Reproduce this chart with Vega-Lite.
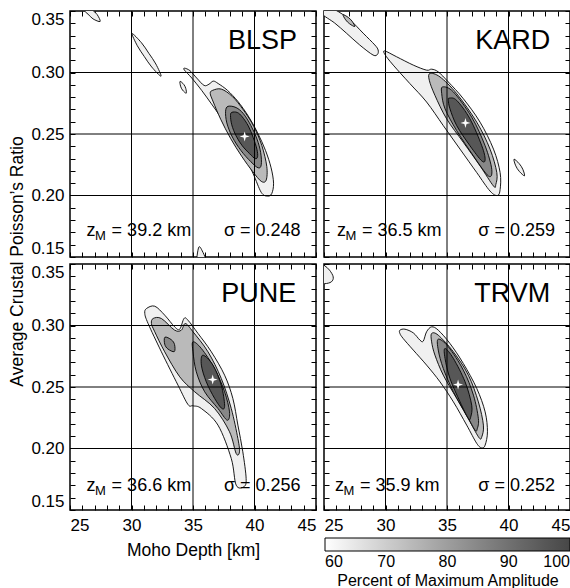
{
"$schema":"https://vega.github.io/schema/vega-lite/v6.json",
"padding":{"left":8,"top":9,"right":2,"bottom":0},
"bounds":"flush",
"columns":2,
"spacing":{"row":7,"column":8},
"config":{
 "font":"Liberation Sans",
 "view":{"stroke":"black","strokeWidth":1.5},
 "axis":{"labelFont":"Liberation Sans","labelFontSize":17,"labelColor":"black","titleFont":"Liberation Sans","titleFontSize":17.5,"titleFontWeight":"normal","titleColor":"black","tickColor":"black","tickWidth":1,"domain":false,"grid":false},
 "legend":{"labelFont":"Liberation Sans","titleFont":"Liberation Sans"}
},
"datasets":{
"gx":[{"v":30},{"v":35},{"v":40}],
"gy":[{"v":0.2},{"v":0.25},{"v":0.3}],
"info":[
{"s":"BLSP","zm":39.2,"sg":0.248,"zt":"= 39.2 km","st":"σ = 0.248"},
{"s":"KARD","zm":36.5,"sg":0.259,"zt":"= 36.5 km","st":"σ = 0.259"},
{"s":"PUNE","zm":36.6,"sg":0.256,"zt":"= 36.6 km","st":"σ = 0.256"},
{"s":"TRVM","zm":35.9,"sg":0.252,"zt":"= 35.9 km","st":"σ = 0.252"}],
"c":[
{"s":"BLSP","i":"B1","l":60,"f":63,"o":1,"x":34.32,"y":0.3035},
{"s":"BLSP","i":"B1","l":60,"f":63,"o":2,"x":34.75,"y":0.3015},
{"s":"BLSP","i":"B1","l":60,"f":63,"o":3,"x":35.3,"y":0.2955},
{"s":"BLSP","i":"B1","l":60,"f":63,"o":4,"x":35.9,"y":0.2895},
{"s":"BLSP","i":"B1","l":60,"f":63,"o":5,"x":36.3,"y":0.2905},
{"s":"BLSP","i":"B1","l":60,"f":63,"o":6,"x":36.65,"y":0.293},
{"s":"BLSP","i":"B1","l":60,"f":63,"o":7,"x":37.05,"y":0.291},
{"s":"BLSP","i":"B1","l":60,"f":63,"o":8,"x":37.8,"y":0.2855},
{"s":"BLSP","i":"B1","l":60,"f":63,"o":9,"x":38.65,"y":0.2765},
{"s":"BLSP","i":"B1","l":60,"f":63,"o":10,"x":39.5,"y":0.2645},
{"s":"BLSP","i":"B1","l":60,"f":63,"o":11,"x":40.25,"y":0.251},
{"s":"BLSP","i":"B1","l":60,"f":63,"o":12,"x":40.9,"y":0.2365},
{"s":"BLSP","i":"B1","l":60,"f":63,"o":13,"x":41.35,"y":0.2225},
{"s":"BLSP","i":"B1","l":60,"f":63,"o":14,"x":41.55,"y":0.21},
{"s":"BLSP","i":"B1","l":60,"f":63,"o":15,"x":41.4,"y":0.2015},
{"s":"BLSP","i":"B1","l":60,"f":63,"o":16,"x":41.05,"y":0.1995},
{"s":"BLSP","i":"B1","l":60,"f":63,"o":17,"x":40.55,"y":0.2025},
{"s":"BLSP","i":"B1","l":60,"f":63,"o":18,"x":39.9,"y":0.2175},
{"s":"BLSP","i":"B1","l":60,"f":63,"o":19,"x":39.2,"y":0.232},
{"s":"BLSP","i":"B1","l":60,"f":63,"o":20,"x":38.5,"y":0.2435},
{"s":"BLSP","i":"B1","l":60,"f":63,"o":21,"x":37.85,"y":0.2545},
{"s":"BLSP","i":"B1","l":60,"f":63,"o":22,"x":37.2,"y":0.2645},
{"s":"BLSP","i":"B1","l":60,"f":63,"o":23,"x":36.5,"y":0.2745},
{"s":"BLSP","i":"B1","l":60,"f":63,"o":24,"x":35.7,"y":0.2855},
{"s":"BLSP","i":"B1","l":60,"f":63,"o":25,"x":34.9,"y":0.2955},
{"s":"BLSP","i":"B1","l":60,"f":63,"o":26,"x":34.3,"y":0.302},
{"s":"BLSP","i":"B2","l":60,"f":63,"o":1,"x":30.05,"y":0.3316},
{"s":"BLSP","i":"B2","l":60,"f":63,"o":2,"x":30.81,"y":0.3242},
{"s":"BLSP","i":"B2","l":60,"f":63,"o":3,"x":31.41,"y":0.3156},
{"s":"BLSP","i":"B2","l":60,"f":63,"o":4,"x":31.98,"y":0.3069},
{"s":"BLSP","i":"B2","l":60,"f":63,"o":5,"x":32.4,"y":0.297},
{"s":"BLSP","i":"B2","l":60,"f":63,"o":6,"x":31.64,"y":0.3045},
{"s":"BLSP","i":"B2","l":60,"f":63,"o":7,"x":31.04,"y":0.313},
{"s":"BLSP","i":"B2","l":60,"f":63,"o":8,"x":30.47,"y":0.3218},
{"s":"BLSP","i":"B3","l":60,"f":63,"o":1,"x":33.95,"y":0.2928},
{"s":"BLSP","i":"B3","l":60,"f":63,"o":2,"x":34.25,"y":0.2903},
{"s":"BLSP","i":"B3","l":60,"f":63,"o":3,"x":34.41,"y":0.2871},
{"s":"BLSP","i":"B3","l":60,"f":63,"o":4,"x":34.45,"y":0.2832},
{"s":"BLSP","i":"B3","l":60,"f":63,"o":5,"x":34.15,"y":0.2857},
{"s":"BLSP","i":"B3","l":60,"f":63,"o":6,"x":33.99,"y":0.2889},
{"s":"BLSP","i":"B4","l":60,"f":63,"o":1,"x":25.8,"y":0.357},
{"s":"BLSP","i":"B4","l":60,"f":63,"o":2,"x":26.38,"y":0.3549},
{"s":"BLSP","i":"B4","l":60,"f":63,"o":3,"x":26.79,"y":0.3511},
{"s":"BLSP","i":"B4","l":60,"f":63,"o":4,"x":27.2,"y":0.3472},
{"s":"BLSP","i":"B4","l":60,"f":63,"o":5,"x":27.45,"y":0.3415},
{"s":"BLSP","i":"B4","l":60,"f":63,"o":6,"x":26.87,"y":0.3436},
{"s":"BLSP","i":"B4","l":60,"f":63,"o":7,"x":26.46,"y":0.3475},
{"s":"BLSP","i":"B4","l":60,"f":63,"o":8,"x":26.05,"y":0.3513},
{"s":"BLSP","i":"B5","l":60,"f":63,"o":1,"x":35.35,"y":0.145},
{"s":"BLSP","i":"B5","l":60,"f":63,"o":2,"x":35.45,"y":0.1575},
{"s":"BLSP","i":"B5","l":60,"f":63,"o":3,"x":35.7,"y":0.156},
{"s":"BLSP","i":"B5","l":60,"f":63,"o":4,"x":36.1,"y":0.145},
{"s":"BLSP","i":"B6","l":70,"f":74,"o":1,"x":36.6,"y":0.2855},
{"s":"BLSP","i":"B6","l":70,"f":74,"o":2,"x":37.3,"y":0.2865},
{"s":"BLSP","i":"B6","l":70,"f":74,"o":3,"x":38.2,"y":0.2805},
{"s":"BLSP","i":"B6","l":70,"f":74,"o":4,"x":39.1,"y":0.2695},
{"s":"BLSP","i":"B6","l":70,"f":74,"o":5,"x":39.95,"y":0.256},
{"s":"BLSP","i":"B6","l":70,"f":74,"o":6,"x":40.6,"y":0.2405},
{"s":"BLSP","i":"B6","l":70,"f":74,"o":7,"x":41.0,"y":0.2235},
{"s":"BLSP","i":"B6","l":70,"f":74,"o":8,"x":40.95,"y":0.2125},
{"s":"BLSP","i":"B6","l":70,"f":74,"o":9,"x":40.55,"y":0.2115},
{"s":"BLSP","i":"B6","l":70,"f":74,"o":10,"x":39.85,"y":0.2195},
{"s":"BLSP","i":"B6","l":70,"f":74,"o":11,"x":38.95,"y":0.232},
{"s":"BLSP","i":"B6","l":70,"f":74,"o":12,"x":38.05,"y":0.2465},
{"s":"BLSP","i":"B6","l":70,"f":74,"o":13,"x":37.25,"y":0.262},
{"s":"BLSP","i":"B6","l":70,"f":74,"o":14,"x":36.65,"y":0.276},
{"s":"BLSP","i":"B6","l":70,"f":74,"o":15,"x":36.4,"y":0.283},
{"s":"BLSP","i":"B7","l":80,"f":85,"o":1,"x":37.85,"y":0.2725},
{"s":"BLSP","i":"B7","l":80,"f":85,"o":2,"x":38.5,"y":0.2715},
{"s":"BLSP","i":"B7","l":80,"f":85,"o":3,"x":39.1,"y":0.2665},
{"s":"BLSP","i":"B7","l":80,"f":85,"o":4,"x":39.7,"y":0.257},
{"s":"BLSP","i":"B7","l":80,"f":85,"o":5,"x":40.2,"y":0.246},
{"s":"BLSP","i":"B7","l":80,"f":85,"o":6,"x":40.5,"y":0.235},
{"s":"BLSP","i":"B7","l":80,"f":85,"o":7,"x":40.55,"y":0.225},
{"s":"BLSP","i":"B7","l":80,"f":85,"o":8,"x":40.3,"y":0.2225},
{"s":"BLSP","i":"B7","l":80,"f":85,"o":9,"x":39.7,"y":0.2275},
{"s":"BLSP","i":"B7","l":80,"f":85,"o":10,"x":38.9,"y":0.2365},
{"s":"BLSP","i":"B7","l":80,"f":85,"o":11,"x":38.2,"y":0.2475},
{"s":"BLSP","i":"B7","l":80,"f":85,"o":12,"x":37.75,"y":0.259},
{"s":"BLSP","i":"B7","l":80,"f":85,"o":13,"x":37.65,"y":0.2685},
{"s":"BLSP","i":"B8","l":90,"f":96,"o":1,"x":38.16,"y":0.2676},
{"s":"BLSP","i":"B8","l":90,"f":96,"o":2,"x":38.6,"y":0.2675},
{"s":"BLSP","i":"B8","l":90,"f":96,"o":3,"x":39.0,"y":0.264},
{"s":"BLSP","i":"B8","l":90,"f":96,"o":4,"x":39.5,"y":0.2565},
{"s":"BLSP","i":"B8","l":90,"f":96,"o":5,"x":39.9,"y":0.247},
{"s":"BLSP","i":"B8","l":90,"f":96,"o":6,"x":40.2,"y":0.2375},
{"s":"BLSP","i":"B8","l":90,"f":96,"o":7,"x":40.25,"y":0.2315},
{"s":"BLSP","i":"B8","l":90,"f":96,"o":8,"x":40.05,"y":0.23},
{"s":"BLSP","i":"B8","l":90,"f":96,"o":9,"x":39.6,"y":0.234},
{"s":"BLSP","i":"B8","l":90,"f":96,"o":10,"x":39.0,"y":0.2405},
{"s":"BLSP","i":"B8","l":90,"f":96,"o":11,"x":38.5,"y":0.2485},
{"s":"BLSP","i":"B8","l":90,"f":96,"o":12,"x":38.15,"y":0.2575},
{"s":"BLSP","i":"B8","l":90,"f":96,"o":13,"x":38.05,"y":0.265},
{"s":"KARD","i":"K1","l":60,"f":63,"o":1,"x":29.95,"y":0.3175},
{"s":"KARD","i":"K1","l":60,"f":63,"o":2,"x":30.9,"y":0.3128},
{"s":"KARD","i":"K1","l":60,"f":63,"o":3,"x":32.26,"y":0.306},
{"s":"KARD","i":"K1","l":60,"f":63,"o":4,"x":33.34,"y":0.3019},
{"s":"KARD","i":"K1","l":60,"f":63,"o":5,"x":33.75,"y":0.3027},
{"s":"KARD","i":"K1","l":60,"f":63,"o":6,"x":34.29,"y":0.3005},
{"s":"KARD","i":"K1","l":60,"f":63,"o":7,"x":35.11,"y":0.2923},
{"s":"KARD","i":"K1","l":60,"f":63,"o":8,"x":36.33,"y":0.2787},
{"s":"KARD","i":"K1","l":60,"f":63,"o":9,"x":37.69,"y":0.2596},
{"s":"KARD","i":"K1","l":60,"f":63,"o":10,"x":38.78,"y":0.2377},
{"s":"KARD","i":"K1","l":60,"f":63,"o":11,"x":39.32,"y":0.2186},
{"s":"KARD","i":"K1","l":60,"f":63,"o":12,"x":39.32,"y":0.2049},
{"s":"KARD","i":"K1","l":60,"f":63,"o":13,"x":39.1,"y":0.2},
{"s":"KARD","i":"K1","l":60,"f":63,"o":14,"x":38.5,"y":0.2036},
{"s":"KARD","i":"K1","l":60,"f":63,"o":15,"x":37.42,"y":0.2186},
{"s":"KARD","i":"K1","l":60,"f":63,"o":16,"x":36.06,"y":0.2377},
{"s":"KARD","i":"K1","l":60,"f":63,"o":17,"x":34.7,"y":0.2568},
{"s":"KARD","i":"K1","l":60,"f":63,"o":18,"x":33.34,"y":0.276},
{"s":"KARD","i":"K1","l":60,"f":63,"o":19,"x":31.98,"y":0.291},
{"s":"KARD","i":"K1","l":60,"f":63,"o":20,"x":30.63,"y":0.306},
{"s":"KARD","i":"K1","l":60,"f":63,"o":21,"x":29.95,"y":0.3147},
{"s":"KARD","i":"K2","l":60,"f":63,"o":1,"x":24.8,"y":0.354},
{"s":"KARD","i":"K2","l":60,"f":63,"o":2,"x":25.87,"y":0.3511},
{"s":"KARD","i":"K2","l":60,"f":63,"o":3,"x":27.09,"y":0.3429},
{"s":"KARD","i":"K2","l":60,"f":63,"o":4,"x":28.18,"y":0.332},
{"s":"KARD","i":"K2","l":60,"f":63,"o":5,"x":29.13,"y":0.3224},
{"s":"KARD","i":"K2","l":60,"f":63,"o":6,"x":29.4,"y":0.3183},
{"s":"KARD","i":"K2","l":60,"f":63,"o":7,"x":29.35,"y":0.3148},
{"s":"KARD","i":"K2","l":60,"f":63,"o":8,"x":28.99,"y":0.3142},
{"s":"KARD","i":"K2","l":60,"f":63,"o":9,"x":27.9,"y":0.3224},
{"s":"KARD","i":"K2","l":60,"f":63,"o":10,"x":26.82,"y":0.332},
{"s":"KARD","i":"K2","l":60,"f":63,"o":11,"x":25.87,"y":0.3402},
{"s":"KARD","i":"K2","l":60,"f":63,"o":12,"x":24.8,"y":0.348},
{"s":"KARD","i":"K4","l":60,"f":63,"o":1,"x":40.45,"y":0.2295},
{"s":"KARD","i":"K4","l":60,"f":63,"o":2,"x":40.87,"y":0.2259},
{"s":"KARD","i":"K4","l":60,"f":63,"o":3,"x":41.16,"y":0.2214},
{"s":"KARD","i":"K4","l":60,"f":63,"o":4,"x":41.3,"y":0.216},
{"s":"KARD","i":"K4","l":60,"f":63,"o":5,"x":40.88,"y":0.2196},
{"s":"KARD","i":"K4","l":60,"f":63,"o":6,"x":40.59,"y":0.2241},
{"s":"KARD","i":"K3","l":70,"f":74,"o":1,"x":26.55,"y":0.347},
{"s":"KARD","i":"K3","l":70,"f":74,"o":2,"x":26.97,"y":0.3448},
{"s":"KARD","i":"K3","l":70,"f":74,"o":3,"x":27.29,"y":0.3416},
{"s":"KARD","i":"K3","l":70,"f":74,"o":4,"x":27.5,"y":0.3374},
{"s":"KARD","i":"K3","l":70,"f":74,"o":5,"x":27.08,"y":0.3396},
{"s":"KARD","i":"K3","l":70,"f":74,"o":6,"x":26.76,"y":0.3428},
{"s":"KARD","i":"K5","l":70,"f":74,"o":1,"x":33.61,"y":0.2992},
{"s":"KARD","i":"K5","l":70,"f":74,"o":2,"x":34.43,"y":0.2964},
{"s":"KARD","i":"K5","l":70,"f":74,"o":3,"x":35.79,"y":0.2828},
{"s":"KARD","i":"K5","l":70,"f":74,"o":4,"x":37.42,"y":0.2596},
{"s":"KARD","i":"K5","l":70,"f":74,"o":5,"x":38.5,"y":0.2377},
{"s":"KARD","i":"K5","l":70,"f":74,"o":6,"x":39.05,"y":0.2186},
{"s":"KARD","i":"K5","l":70,"f":74,"o":7,"x":38.97,"y":0.209},
{"s":"KARD","i":"K5","l":70,"f":74,"o":8,"x":38.78,"y":0.2077},
{"s":"KARD","i":"K5","l":70,"f":74,"o":9,"x":37.69,"y":0.224},
{"s":"KARD","i":"K5","l":70,"f":74,"o":10,"x":36.33,"y":0.2432},
{"s":"KARD","i":"K5","l":70,"f":74,"o":11,"x":34.97,"y":0.2623},
{"s":"KARD","i":"K5","l":70,"f":74,"o":12,"x":34.02,"y":0.2814},
{"s":"KARD","i":"K5","l":70,"f":74,"o":13,"x":33.56,"y":0.2937},
{"s":"KARD","i":"K6","l":80,"f":85,"o":1,"x":34.65,"y":0.2883},
{"s":"KARD","i":"K6","l":80,"f":85,"o":2,"x":35.52,"y":0.2842},
{"s":"KARD","i":"K6","l":80,"f":85,"o":3,"x":37.01,"y":0.2637},
{"s":"KARD","i":"K6","l":80,"f":85,"o":4,"x":38.1,"y":0.2404},
{"s":"KARD","i":"K6","l":80,"f":85,"o":5,"x":38.64,"y":0.2213},
{"s":"KARD","i":"K6","l":80,"f":85,"o":6,"x":38.37,"y":0.2158},
{"s":"KARD","i":"K6","l":80,"f":85,"o":7,"x":37.15,"y":0.2322},
{"s":"KARD","i":"K6","l":80,"f":85,"o":8,"x":35.79,"y":0.2527},
{"s":"KARD","i":"K6","l":80,"f":85,"o":9,"x":34.84,"y":0.2705},
{"s":"KARD","i":"K6","l":80,"f":85,"o":10,"x":34.57,"y":0.2828},
{"s":"KARD","i":"K7","l":90,"f":96,"o":1,"x":35.19,"y":0.2792},
{"s":"KARD","i":"K7","l":90,"f":96,"o":2,"x":35.79,"y":0.2773},
{"s":"KARD","i":"K7","l":90,"f":96,"o":3,"x":36.87,"y":0.2623},
{"s":"KARD","i":"K7","l":90,"f":96,"o":4,"x":37.83,"y":0.2404},
{"s":"KARD","i":"K7","l":90,"f":96,"o":5,"x":38.1,"y":0.2295},
{"s":"KARD","i":"K7","l":90,"f":96,"o":6,"x":37.83,"y":0.2281},
{"s":"KARD","i":"K7","l":90,"f":96,"o":7,"x":36.87,"y":0.2404},
{"s":"KARD","i":"K7","l":90,"f":96,"o":8,"x":35.79,"y":0.2568},
{"s":"KARD","i":"K7","l":90,"f":96,"o":9,"x":35.24,"y":0.2705},
{"s":"KARD","i":"K7","l":90,"f":96,"o":10,"x":35.11,"y":0.2773},
{"s":"PUNE","i":"P1","l":60,"f":63,"o":1,"x":31.22,"y":0.3138},
{"s":"PUNE","i":"P1","l":60,"f":63,"o":2,"x":31.89,"y":0.3157},
{"s":"PUNE","i":"P1","l":60,"f":63,"o":3,"x":32.7,"y":0.3084},
{"s":"PUNE","i":"P1","l":60,"f":63,"o":4,"x":33.51,"y":0.2989},
{"s":"PUNE","i":"P1","l":60,"f":63,"o":5,"x":33.92,"y":0.297},
{"s":"PUNE","i":"P1","l":60,"f":63,"o":6,"x":34.27,"y":0.3057},
{"s":"PUNE","i":"P1","l":60,"f":63,"o":7,"x":34.59,"y":0.3043},
{"s":"PUNE","i":"P1","l":60,"f":63,"o":8,"x":35.41,"y":0.2935},
{"s":"PUNE","i":"P1","l":60,"f":63,"o":9,"x":36.49,"y":0.2786},
{"s":"PUNE","i":"P1","l":60,"f":63,"o":10,"x":37.57,"y":0.2596},
{"s":"PUNE","i":"P1","l":60,"f":63,"o":11,"x":38.24,"y":0.2407},
{"s":"PUNE","i":"P1","l":60,"f":63,"o":12,"x":38.65,"y":0.219},
{"s":"PUNE","i":"P1","l":60,"f":63,"o":13,"x":39.05,"y":0.1973},
{"s":"PUNE","i":"P1","l":60,"f":63,"o":14,"x":39.32,"y":0.1756},
{"s":"PUNE","i":"P1","l":60,"f":63,"o":15,"x":39.15,"y":0.169},
{"s":"PUNE","i":"P1","l":60,"f":63,"o":16,"x":38.51,"y":0.1702},
{"s":"PUNE","i":"P1","l":60,"f":63,"o":17,"x":38.11,"y":0.1919},
{"s":"PUNE","i":"P1","l":60,"f":63,"o":18,"x":37.03,"y":0.219},
{"s":"PUNE","i":"P1","l":60,"f":63,"o":19,"x":35.68,"y":0.2325},
{"s":"PUNE","i":"P1","l":60,"f":63,"o":20,"x":35.0,"y":0.2347},
{"s":"PUNE","i":"P1","l":60,"f":63,"o":21,"x":34.59,"y":0.2358},
{"s":"PUNE","i":"P1","l":60,"f":63,"o":22,"x":33.78,"y":0.2515},
{"s":"PUNE","i":"P1","l":60,"f":63,"o":23,"x":32.43,"y":0.2786},
{"s":"PUNE","i":"P1","l":60,"f":63,"o":24,"x":31.35,"y":0.3016},
{"s":"PUNE","i":"P1","l":60,"f":63,"o":25,"x":31.08,"y":0.3098},
{"s":"PUNE","i":"P2","l":70,"f":74,"o":1,"x":31.76,"y":0.3057},
{"s":"PUNE","i":"P2","l":70,"f":74,"o":2,"x":32.43,"y":0.3057},
{"s":"PUNE","i":"P2","l":70,"f":74,"o":3,"x":33.51,"y":0.2962},
{"s":"PUNE","i":"P2","l":70,"f":74,"o":4,"x":34.05,"y":0.2962},
{"s":"PUNE","i":"P2","l":70,"f":74,"o":5,"x":34.38,"y":0.3016},
{"s":"PUNE","i":"P2","l":70,"f":74,"o":6,"x":35.0,"y":0.2949},
{"s":"PUNE","i":"P2","l":70,"f":74,"o":7,"x":36.22,"y":0.2786},
{"s":"PUNE","i":"P2","l":70,"f":74,"o":8,"x":37.3,"y":0.2569},
{"s":"PUNE","i":"P2","l":70,"f":74,"o":9,"x":38.11,"y":0.2325},
{"s":"PUNE","i":"P2","l":70,"f":74,"o":10,"x":38.65,"y":0.2081},
{"s":"PUNE","i":"P2","l":70,"f":74,"o":11,"x":38.78,"y":0.1973},
{"s":"PUNE","i":"P2","l":70,"f":74,"o":12,"x":38.51,"y":0.1959},
{"s":"PUNE","i":"P2","l":70,"f":74,"o":13,"x":37.97,"y":0.2136},
{"s":"PUNE","i":"P2","l":70,"f":74,"o":14,"x":36.76,"y":0.2325},
{"s":"PUNE","i":"P2","l":70,"f":74,"o":15,"x":35.14,"y":0.2461},
{"s":"PUNE","i":"P2","l":70,"f":74,"o":16,"x":33.92,"y":0.2583},
{"s":"PUNE","i":"P2","l":70,"f":74,"o":17,"x":32.7,"y":0.2786},
{"s":"PUNE","i":"P2","l":70,"f":74,"o":18,"x":31.89,"y":0.2949},
{"s":"PUNE","i":"P2","l":70,"f":74,"o":19,"x":31.62,"y":0.3016},
{"s":"PUNE","i":"P3","l":80,"f":85,"o":1,"x":32.72,"y":0.2905},
{"s":"PUNE","i":"P3","l":80,"f":85,"o":2,"x":33.24,"y":0.2884},
{"s":"PUNE","i":"P3","l":80,"f":85,"o":3,"x":33.5,"y":0.2845},
{"s":"PUNE","i":"P3","l":80,"f":85,"o":4,"x":33.48,"y":0.2788},
{"s":"PUNE","i":"P3","l":80,"f":85,"o":5,"x":32.96,"y":0.2809},
{"s":"PUNE","i":"P3","l":80,"f":85,"o":6,"x":32.7,"y":0.2848},
{"s":"PUNE","i":"P4","l":80,"f":85,"o":1,"x":35.0,"y":0.2867},
{"s":"PUNE","i":"P4","l":80,"f":85,"o":2,"x":35.68,"y":0.2813},
{"s":"PUNE","i":"P4","l":80,"f":85,"o":3,"x":36.76,"y":0.265},
{"s":"PUNE","i":"P4","l":80,"f":85,"o":4,"x":37.57,"y":0.2461},
{"s":"PUNE","i":"P4","l":80,"f":85,"o":5,"x":37.97,"y":0.2298},
{"s":"PUNE","i":"P4","l":80,"f":85,"o":6,"x":37.78,"y":0.223},
{"s":"PUNE","i":"P4","l":80,"f":85,"o":7,"x":37.03,"y":0.2325},
{"s":"PUNE","i":"P4","l":80,"f":85,"o":8,"x":35.95,"y":0.2461},
{"s":"PUNE","i":"P4","l":80,"f":85,"o":9,"x":35.27,"y":0.2623},
{"s":"PUNE","i":"P4","l":80,"f":85,"o":10,"x":35.0,"y":0.2786},
{"s":"PUNE","i":"P5","l":90,"f":96,"o":1,"x":35.81,"y":0.2759},
{"s":"PUNE","i":"P5","l":90,"f":96,"o":2,"x":36.62,"y":0.2678},
{"s":"PUNE","i":"P5","l":90,"f":96,"o":3,"x":37.3,"y":0.2515},
{"s":"PUNE","i":"P5","l":90,"f":96,"o":4,"x":37.57,"y":0.2352},
{"s":"PUNE","i":"P5","l":90,"f":96,"o":5,"x":37.35,"y":0.2325},
{"s":"PUNE","i":"P5","l":90,"f":96,"o":6,"x":36.76,"y":0.2407},
{"s":"PUNE","i":"P5","l":90,"f":96,"o":7,"x":36.08,"y":0.2542},
{"s":"PUNE","i":"P5","l":90,"f":96,"o":8,"x":35.68,"y":0.2678},
{"s":"TRVM","i":"T1","l":60,"f":63,"o":1,"x":31.17,"y":0.2962},
{"s":"TRVM","i":"T1","l":60,"f":63,"o":2,"x":31.58,"y":0.297},
{"s":"TRVM","i":"T1","l":60,"f":63,"o":3,"x":32.26,"y":0.294},
{"s":"TRVM","i":"T1","l":60,"f":63,"o":4,"x":32.8,"y":0.2881},
{"s":"TRVM","i":"T1","l":60,"f":63,"o":5,"x":33.07,"y":0.2873},
{"s":"TRVM","i":"T1","l":60,"f":63,"o":6,"x":33.34,"y":0.2949},
{"s":"TRVM","i":"T1","l":60,"f":63,"o":7,"x":33.75,"y":0.2989},
{"s":"TRVM","i":"T1","l":60,"f":63,"o":8,"x":34.29,"y":0.2962},
{"s":"TRVM","i":"T1","l":60,"f":63,"o":9,"x":35.24,"y":0.2854},
{"s":"TRVM","i":"T1","l":60,"f":63,"o":10,"x":36.33,"y":0.2691},
{"s":"TRVM","i":"T1","l":60,"f":63,"o":11,"x":37.42,"y":0.2488},
{"s":"TRVM","i":"T1","l":60,"f":63,"o":12,"x":38.1,"y":0.2298},
{"s":"TRVM","i":"T1","l":60,"f":63,"o":13,"x":38.29,"y":0.2136},
{"s":"TRVM","i":"T1","l":60,"f":63,"o":14,"x":38.1,"y":0.2027},
{"s":"TRVM","i":"T1","l":60,"f":63,"o":15,"x":37.83,"y":0.2005},
{"s":"TRVM","i":"T1","l":60,"f":63,"o":16,"x":37.42,"y":0.2041},
{"s":"TRVM","i":"T1","l":60,"f":63,"o":17,"x":36.6,"y":0.219},
{"s":"TRVM","i":"T1","l":60,"f":63,"o":18,"x":35.52,"y":0.2379},
{"s":"TRVM","i":"T1","l":60,"f":63,"o":19,"x":34.43,"y":0.2542},
{"s":"TRVM","i":"T1","l":60,"f":63,"o":20,"x":33.34,"y":0.2678},
{"s":"TRVM","i":"T1","l":60,"f":63,"o":21,"x":32.26,"y":0.28},
{"s":"TRVM","i":"T1","l":60,"f":63,"o":22,"x":31.44,"y":0.2894},
{"s":"TRVM","i":"T1","l":60,"f":63,"o":23,"x":31.17,"y":0.2935},
{"s":"TRVM","i":"T2","l":60,"f":63,"o":1,"x":24.5,"y":0.351},
{"s":"TRVM","i":"T2","l":60,"f":63,"o":2,"x":25.0,"y":0.349},
{"s":"TRVM","i":"T2","l":60,"f":63,"o":3,"x":25.45,"y":0.345},
{"s":"TRVM","i":"T2","l":60,"f":63,"o":4,"x":25.75,"y":0.3395},
{"s":"TRVM","i":"T2","l":60,"f":63,"o":5,"x":25.6,"y":0.3355},
{"s":"TRVM","i":"T2","l":60,"f":63,"o":6,"x":25.05,"y":0.334},
{"s":"TRVM","i":"T2","l":60,"f":63,"o":7,"x":24.5,"y":0.335},
{"s":"TRVM","i":"T3","l":70,"f":74,"o":1,"x":33.75,"y":0.2935},
{"s":"TRVM","i":"T3","l":70,"f":74,"o":2,"x":34.29,"y":0.2921},
{"s":"TRVM","i":"T3","l":70,"f":74,"o":3,"x":35.52,"y":0.2786},
{"s":"TRVM","i":"T3","l":70,"f":74,"o":4,"x":36.74,"y":0.2596},
{"s":"TRVM","i":"T3","l":70,"f":74,"o":5,"x":37.55,"y":0.2379},
{"s":"TRVM","i":"T3","l":70,"f":74,"o":6,"x":37.96,"y":0.219},
{"s":"TRVM","i":"T3","l":70,"f":74,"o":7,"x":37.83,"y":0.2095},
{"s":"TRVM","i":"T3","l":70,"f":74,"o":8,"x":37.61,"y":0.2087},
{"s":"TRVM","i":"T3","l":70,"f":74,"o":9,"x":36.87,"y":0.2217},
{"s":"TRVM","i":"T3","l":70,"f":74,"o":10,"x":35.79,"y":0.2407},
{"s":"TRVM","i":"T3","l":70,"f":74,"o":11,"x":34.7,"y":0.2596},
{"s":"TRVM","i":"T3","l":70,"f":74,"o":12,"x":34.02,"y":0.2759},
{"s":"TRVM","i":"T3","l":70,"f":74,"o":13,"x":33.75,"y":0.2867},
{"s":"TRVM","i":"T4","l":80,"f":85,"o":1,"x":34.29,"y":0.2889},
{"s":"TRVM","i":"T4","l":80,"f":85,"o":2,"x":35.11,"y":0.2827},
{"s":"TRVM","i":"T4","l":80,"f":85,"o":3,"x":36.33,"y":0.2637},
{"s":"TRVM","i":"T4","l":80,"f":85,"o":4,"x":37.15,"y":0.2434},
{"s":"TRVM","i":"T4","l":80,"f":85,"o":5,"x":37.55,"y":0.2244},
{"s":"TRVM","i":"T4","l":80,"f":85,"o":6,"x":37.47,"y":0.2163},
{"s":"TRVM","i":"T4","l":80,"f":85,"o":7,"x":37.28,"y":0.2149},
{"s":"TRVM","i":"T4","l":80,"f":85,"o":8,"x":36.6,"y":0.2271},
{"s":"TRVM","i":"T4","l":80,"f":85,"o":9,"x":35.52,"y":0.2461},
{"s":"TRVM","i":"T4","l":80,"f":85,"o":10,"x":34.7,"y":0.265},
{"s":"TRVM","i":"T4","l":80,"f":85,"o":11,"x":34.29,"y":0.28},
{"s":"TRVM","i":"T5","l":90,"f":96,"o":1,"x":34.84,"y":0.2813},
{"s":"TRVM","i":"T5","l":90,"f":96,"o":2,"x":35.52,"y":0.2732},
{"s":"TRVM","i":"T5","l":90,"f":96,"o":3,"x":36.47,"y":0.2542},
{"s":"TRVM","i":"T5","l":90,"f":96,"o":4,"x":37.01,"y":0.2352},
{"s":"TRVM","i":"T5","l":90,"f":96,"o":5,"x":36.93,"y":0.2257},
{"s":"TRVM","i":"T5","l":90,"f":96,"o":6,"x":36.74,"y":0.2244},
{"s":"TRVM","i":"T5","l":90,"f":96,"o":7,"x":36.06,"y":0.2379},
{"s":"TRVM","i":"T5","l":90,"f":96,"o":8,"x":35.24,"y":0.2569},
{"s":"TRVM","i":"T5","l":90,"f":96,"o":9,"x":34.84,"y":0.2732}
]},
"concat":[
{"width":246,"height":246,"resolve":{"axis":{"x":"independent","y":"independent"}},
 "layer":[
  {"data":{"name":"c"},"transform":[{"filter":"datum.s==='BLSP'&&datum.l===60"}],
   "mark":{"type":"line","interpolate":"cardinal-closed","stroke":"black","strokeWidth":0.9,"clip":true},
   "encoding":{
    "x":{"field":"x","type":"quantitative","scale":{"domain":[25,45],"nice":false,"zero":false},
     "axis":{"orient":"bottom","values":[25,26,27,28,29,30,31,32,33,34,35,36,37,38,39,40,41,42,43,44,45],"labels":false,"tickSize":-5,"title":null}},
    "y":{"field":"y","type":"quantitative","scale":{"domain":[0.15,0.35],"nice":false,"zero":false},
     "axis":{"orient":"left","values":[0.15,0.16,0.17,0.18,0.19,0.2,0.21,0.22,0.23,0.24,0.25,0.26,0.27,0.28,0.29,0.3,0.31,0.32,0.33,0.34,0.35],"labelExpr":"round(datum.value*100) % 5 === 0 ? format(datum.value, '.2f') : ''","labelFlush":true,"labelOverlap":false,"labelPadding":11,"tickSize":-5,"title":"Average Crustal Poisson’s Ratio","titleY":250,"titlePadding":4}},
    "fill":{"field":"f","type":"quantitative","title":"Percent of Maximum Amplitude","scale":{"domain":[60,100],"range":["#ffffff","#474747"]},
     "legend":{"values":[60,70,80,90,100],"orient":"none","legendX":255,"legendY":527,"direction":"horizontal","gradientLength":245,"gradientThickness":13,"gradientStrokeColor":"black","gradientStrokeWidth":1,"titleOrient":"bottom","titleAnchor":"middle","titleFontSize":16,"titleFontWeight":"normal","titleColor":"black","titleLimit":400,"titleBaseline":"top","labelFontSize":16,"labelColor":"black","labelOffset":3,"titlePadding":3}},
    "detail":{"field":"i"},
    "order":{"field":"o","type":"quantitative"}}},
  {"data":{"name":"c"},"transform":[{"filter":"datum.s==='BLSP'&&datum.l===70"}],
   "mark":{"type":"line","interpolate":"cardinal-closed","stroke":"black","strokeWidth":0.9,"clip":true},
   "encoding":{"x":{"field":"x","type":"quantitative","scale":{"domain":[25,45],"nice":false,"zero":false},"axis":null},"y":{"field":"y","type":"quantitative","scale":{"domain":[0.15,0.35],"nice":false,"zero":false},"axis":null},
    "fill":{"field":"f","type":"quantitative","title":"Percent of Maximum Amplitude","scale":{"domain":[60,100],"range":["#ffffff","#474747"]}},"detail":{"field":"i"},"order":{"field":"o","type":"quantitative"}}},
  {"data":{"name":"c"},"transform":[{"filter":"datum.s==='BLSP'&&datum.l===80"}],
   "mark":{"type":"line","interpolate":"cardinal-closed","stroke":"black","strokeWidth":0.9,"clip":true},
   "encoding":{"x":{"field":"x","type":"quantitative","scale":{"domain":[25,45],"nice":false,"zero":false},"axis":null},"y":{"field":"y","type":"quantitative","scale":{"domain":[0.15,0.35],"nice":false,"zero":false},"axis":null},
    "fill":{"field":"f","type":"quantitative","title":"Percent of Maximum Amplitude","scale":{"domain":[60,100],"range":["#ffffff","#474747"]}},"detail":{"field":"i"},"order":{"field":"o","type":"quantitative"}}},
  {"data":{"name":"c"},"transform":[{"filter":"datum.s==='BLSP'&&datum.l===90"}],
   "mark":{"type":"line","interpolate":"cardinal-closed","stroke":"black","strokeWidth":0.9,"clip":true},
   "encoding":{"x":{"field":"x","type":"quantitative","scale":{"domain":[25,45],"nice":false,"zero":false},"axis":null},"y":{"field":"y","type":"quantitative","scale":{"domain":[0.15,0.35],"nice":false,"zero":false},"axis":null},
    "fill":{"field":"f","type":"quantitative","title":"Percent of Maximum Amplitude","scale":{"domain":[60,100],"range":["#ffffff","#474747"]}},"detail":{"field":"i"},"order":{"field":"o","type":"quantitative"}}},
  {"data":{"name":"gx"},"mark":{"type":"rule","stroke":"black","strokeWidth":1},"encoding":{"x":{"field":"v","type":"quantitative","scale":{"domain":[25,45],"nice":false,"zero":false},"axis":null}}},
  {"data":{"name":"gy"},"mark":{"type":"rule","stroke":"black","strokeWidth":1},"encoding":{"y":{"field":"v","type":"quantitative","scale":{"domain":[0.15,0.35],"nice":false,"zero":false},"axis":null}}},
  {"data":{"name":"info"},"transform":[{"filter":"datum.s==='BLSP'"}],
   "mark":{"type":"point","shape":"M0,-1L0.22,-0.22L1,0L0.22,0.22L0,1L-0.22,0.22L-1,0L-0.22,-0.22Z","size":100,"filled":true,"fill":"white","opacity":1,"strokeWidth":0},
   "encoding":{"x":{"field":"zm","type":"quantitative","scale":{"domain":[25,45],"nice":false,"zero":false},"axis":{"orient":"top","values":[25,26,27,28,29,30,31,32,33,34,35,36,37,38,39,40,41,42,43,44,45],"labels":false,"tickSize":-5,"title":null}},
    "y":{"field":"sg","type":"quantitative","scale":{"domain":[0.15,0.35],"nice":false,"zero":false},"axis":{"orient":"right","values":[0.15,0.16,0.17,0.18,0.19,0.2,0.21,0.22,0.23,0.24,0.25,0.26,0.27,0.28,0.29,0.3,0.31,0.32,0.33,0.34,0.35],"labels":false,"tickSize":-5,"title":null}}}},
  {"data":{"name":"info"},"transform":[{"filter":"datum.s==='BLSP'"}],"mark":{"type":"text","align":"right","baseline":"alphabetic","fontSize":27,"color":"black"},
   "encoding":{"x":{"datum":43.45,"type":"quantitative","scale":{"domain":[25,45],"nice":false,"zero":false},"axis":null},"y":{"datum":0.3195,"type":"quantitative","scale":{"domain":[0.15,0.35],"nice":false,"zero":false},"axis":null},"text":{"field":"s"}}},
  {"data":{"name":"info"},"transform":[{"filter":"datum.s==='BLSP'"}],"mark":{"type":"text","align":"left","baseline":"alphabetic","fontSize":18,"color":"black","text":"z"},
   "encoding":{"x":{"datum":26.35,"type":"quantitative","scale":{"domain":[25,45],"nice":false,"zero":false},"axis":null},"y":{"datum":0.1672,"type":"quantitative","scale":{"domain":[0.15,0.35],"nice":false,"zero":false},"axis":null}}},
  {"data":{"name":"info"},"transform":[{"filter":"datum.s==='BLSP'"}],"mark":{"type":"text","align":"left","baseline":"alphabetic","fontSize":13,"color":"black","text":"M","dx":8.5,"dy":4.5},
   "encoding":{"x":{"datum":26.35,"type":"quantitative","scale":{"domain":[25,45],"nice":false,"zero":false},"axis":null},"y":{"datum":0.1672,"type":"quantitative","scale":{"domain":[0.15,0.35],"nice":false,"zero":false},"axis":null}}},
  {"data":{"name":"info"},"transform":[{"filter":"datum.s==='BLSP'"}],"mark":{"type":"text","align":"left","baseline":"alphabetic","fontSize":18,"color":"black","dx":25},
   "encoding":{"x":{"datum":26.35,"type":"quantitative","scale":{"domain":[25,45],"nice":false,"zero":false},"axis":null},"y":{"datum":0.1672,"type":"quantitative","scale":{"domain":[0.15,0.35],"nice":false,"zero":false},"axis":null},"text":{"field":"zt"}}},
  {"data":{"name":"info"},"transform":[{"filter":"datum.s==='BLSP'"}],"mark":{"type":"text","align":"right","baseline":"alphabetic","fontSize":18,"color":"black"},
   "encoding":{"x":{"datum":43.75,"type":"quantitative","scale":{"domain":[25,45],"nice":false,"zero":false},"axis":null},"y":{"datum":0.1672,"type":"quantitative","scale":{"domain":[0.15,0.35],"nice":false,"zero":false},"axis":null},"text":{"field":"st"}}}
 ]},
{"width":246,"height":246,"resolve":{"axis":{"x":"independent","y":"independent"}},
 "layer":[
  {"data":{"name":"c"},"transform":[{"filter":"datum.s==='KARD'&&datum.l===60"}],
   "mark":{"type":"line","interpolate":"cardinal-closed","stroke":"black","strokeWidth":0.9,"clip":true},
   "encoding":{
    "x":{"field":"x","type":"quantitative","scale":{"domain":[25,45],"nice":false,"zero":false},
     "axis":{"orient":"bottom","values":[25,26,27,28,29,30,31,32,33,34,35,36,37,38,39,40,41,42,43,44,45],"labels":false,"tickSize":-5,"title":null}},
    "y":{"field":"y","type":"quantitative","scale":{"domain":[0.15,0.35],"nice":false,"zero":false},
     "axis":{"orient":"left","values":[0.15,0.16,0.17,0.18,0.19,0.2,0.21,0.22,0.23,0.24,0.25,0.26,0.27,0.28,0.29,0.3,0.31,0.32,0.33,0.34,0.35],"labels":false,"tickSize":-5,"title":null}},
    "fill":{"field":"f","type":"quantitative","title":"Percent of Maximum Amplitude","scale":{"domain":[60,100],"range":["#ffffff","#474747"]}},
    "detail":{"field":"i"},
    "order":{"field":"o","type":"quantitative"}}},
  {"data":{"name":"c"},"transform":[{"filter":"datum.s==='KARD'&&datum.l===70"}],
   "mark":{"type":"line","interpolate":"cardinal-closed","stroke":"black","strokeWidth":0.9,"clip":true},
   "encoding":{"x":{"field":"x","type":"quantitative","scale":{"domain":[25,45],"nice":false,"zero":false},"axis":null},"y":{"field":"y","type":"quantitative","scale":{"domain":[0.15,0.35],"nice":false,"zero":false},"axis":null},
    "fill":{"field":"f","type":"quantitative","title":"Percent of Maximum Amplitude","scale":{"domain":[60,100],"range":["#ffffff","#474747"]}},"detail":{"field":"i"},"order":{"field":"o","type":"quantitative"}}},
  {"data":{"name":"c"},"transform":[{"filter":"datum.s==='KARD'&&datum.l===80"}],
   "mark":{"type":"line","interpolate":"cardinal-closed","stroke":"black","strokeWidth":0.9,"clip":true},
   "encoding":{"x":{"field":"x","type":"quantitative","scale":{"domain":[25,45],"nice":false,"zero":false},"axis":null},"y":{"field":"y","type":"quantitative","scale":{"domain":[0.15,0.35],"nice":false,"zero":false},"axis":null},
    "fill":{"field":"f","type":"quantitative","title":"Percent of Maximum Amplitude","scale":{"domain":[60,100],"range":["#ffffff","#474747"]}},"detail":{"field":"i"},"order":{"field":"o","type":"quantitative"}}},
  {"data":{"name":"c"},"transform":[{"filter":"datum.s==='KARD'&&datum.l===90"}],
   "mark":{"type":"line","interpolate":"cardinal-closed","stroke":"black","strokeWidth":0.9,"clip":true},
   "encoding":{"x":{"field":"x","type":"quantitative","scale":{"domain":[25,45],"nice":false,"zero":false},"axis":null},"y":{"field":"y","type":"quantitative","scale":{"domain":[0.15,0.35],"nice":false,"zero":false},"axis":null},
    "fill":{"field":"f","type":"quantitative","title":"Percent of Maximum Amplitude","scale":{"domain":[60,100],"range":["#ffffff","#474747"]}},"detail":{"field":"i"},"order":{"field":"o","type":"quantitative"}}},
  {"data":{"name":"gx"},"mark":{"type":"rule","stroke":"black","strokeWidth":1},"encoding":{"x":{"field":"v","type":"quantitative","scale":{"domain":[25,45],"nice":false,"zero":false},"axis":null}}},
  {"data":{"name":"gy"},"mark":{"type":"rule","stroke":"black","strokeWidth":1},"encoding":{"y":{"field":"v","type":"quantitative","scale":{"domain":[0.15,0.35],"nice":false,"zero":false},"axis":null}}},
  {"data":{"name":"info"},"transform":[{"filter":"datum.s==='KARD'"}],
   "mark":{"type":"point","shape":"M0,-1L0.22,-0.22L1,0L0.22,0.22L0,1L-0.22,0.22L-1,0L-0.22,-0.22Z","size":100,"filled":true,"fill":"white","opacity":1,"strokeWidth":0},
   "encoding":{"x":{"field":"zm","type":"quantitative","scale":{"domain":[25,45],"nice":false,"zero":false},"axis":{"orient":"top","values":[25,26,27,28,29,30,31,32,33,34,35,36,37,38,39,40,41,42,43,44,45],"labels":false,"tickSize":-5,"title":null}},
    "y":{"field":"sg","type":"quantitative","scale":{"domain":[0.15,0.35],"nice":false,"zero":false},"axis":{"orient":"right","values":[0.15,0.16,0.17,0.18,0.19,0.2,0.21,0.22,0.23,0.24,0.25,0.26,0.27,0.28,0.29,0.3,0.31,0.32,0.33,0.34,0.35],"labels":false,"tickSize":-5,"title":null}}}},
  {"data":{"name":"info"},"transform":[{"filter":"datum.s==='KARD'"}],"mark":{"type":"text","align":"right","baseline":"alphabetic","fontSize":27,"color":"black"},
   "encoding":{"x":{"datum":43.4,"type":"quantitative","scale":{"domain":[25,45],"nice":false,"zero":false},"axis":null},"y":{"datum":0.3195,"type":"quantitative","scale":{"domain":[0.15,0.35],"nice":false,"zero":false},"axis":null},"text":{"field":"s"}}},
  {"data":{"name":"info"},"transform":[{"filter":"datum.s==='KARD'"}],"mark":{"type":"text","align":"left","baseline":"alphabetic","fontSize":18,"color":"black","text":"z"},
   "encoding":{"x":{"datum":26.05,"type":"quantitative","scale":{"domain":[25,45],"nice":false,"zero":false},"axis":null},"y":{"datum":0.1672,"type":"quantitative","scale":{"domain":[0.15,0.35],"nice":false,"zero":false},"axis":null}}},
  {"data":{"name":"info"},"transform":[{"filter":"datum.s==='KARD'"}],"mark":{"type":"text","align":"left","baseline":"alphabetic","fontSize":13,"color":"black","text":"M","dx":8.5,"dy":4.5},
   "encoding":{"x":{"datum":26.05,"type":"quantitative","scale":{"domain":[25,45],"nice":false,"zero":false},"axis":null},"y":{"datum":0.1672,"type":"quantitative","scale":{"domain":[0.15,0.35],"nice":false,"zero":false},"axis":null}}},
  {"data":{"name":"info"},"transform":[{"filter":"datum.s==='KARD'"}],"mark":{"type":"text","align":"left","baseline":"alphabetic","fontSize":18,"color":"black","dx":25},
   "encoding":{"x":{"datum":26.05,"type":"quantitative","scale":{"domain":[25,45],"nice":false,"zero":false},"axis":null},"y":{"datum":0.1672,"type":"quantitative","scale":{"domain":[0.15,0.35],"nice":false,"zero":false},"axis":null},"text":{"field":"zt"}}},
  {"data":{"name":"info"},"transform":[{"filter":"datum.s==='KARD'"}],"mark":{"type":"text","align":"right","baseline":"alphabetic","fontSize":18,"color":"black"},
   "encoding":{"x":{"datum":43.78,"type":"quantitative","scale":{"domain":[25,45],"nice":false,"zero":false},"axis":null},"y":{"datum":0.1672,"type":"quantitative","scale":{"domain":[0.15,0.35],"nice":false,"zero":false},"axis":null},"text":{"field":"st"}}}
 ]},
{"width":246,"height":246,"resolve":{"axis":{"x":"independent","y":"independent"}},
 "layer":[
  {"data":{"name":"c"},"transform":[{"filter":"datum.s==='PUNE'&&datum.l===60"}],
   "mark":{"type":"line","interpolate":"cardinal-closed","stroke":"black","strokeWidth":0.9,"clip":true},
   "encoding":{
    "x":{"field":"x","type":"quantitative","scale":{"domain":[25,45],"nice":false,"zero":false},
     "axis":{"orient":"bottom","values":[25,26,27,28,29,30,31,32,33,34,35,36,37,38,39,40,41,42,43,44,45],"labelExpr":"datum.value % 5 === 0 ? datum.label : ''","labelFlush":true,"labelOverlap":false,"labelPadding":12,"tickSize":-5,"title":"Moho Depth [km]","titlePadding":8}},
    "y":{"field":"y","type":"quantitative","scale":{"domain":[0.15,0.35],"nice":false,"zero":false},
     "axis":{"orient":"left","values":[0.15,0.16,0.17,0.18,0.19,0.2,0.21,0.22,0.23,0.24,0.25,0.26,0.27,0.28,0.29,0.3,0.31,0.32,0.33,0.34,0.35],"labelExpr":"round(datum.value*100) % 5 === 0 ? format(datum.value, '.2f') : ''","labelFlush":true,"labelOverlap":false,"labelPadding":11,"tickSize":-5,"title":null}},
    "fill":{"field":"f","type":"quantitative","title":"Percent of Maximum Amplitude","scale":{"domain":[60,100],"range":["#ffffff","#474747"]}},
    "detail":{"field":"i"},
    "order":{"field":"o","type":"quantitative"}}},
  {"data":{"name":"c"},"transform":[{"filter":"datum.s==='PUNE'&&datum.l===70"}],
   "mark":{"type":"line","interpolate":"cardinal-closed","stroke":"black","strokeWidth":0.9,"clip":true},
   "encoding":{"x":{"field":"x","type":"quantitative","scale":{"domain":[25,45],"nice":false,"zero":false},"axis":null},"y":{"field":"y","type":"quantitative","scale":{"domain":[0.15,0.35],"nice":false,"zero":false},"axis":null},
    "fill":{"field":"f","type":"quantitative","title":"Percent of Maximum Amplitude","scale":{"domain":[60,100],"range":["#ffffff","#474747"]}},"detail":{"field":"i"},"order":{"field":"o","type":"quantitative"}}},
  {"data":{"name":"c"},"transform":[{"filter":"datum.s==='PUNE'&&datum.l===80"}],
   "mark":{"type":"line","interpolate":"cardinal-closed","stroke":"black","strokeWidth":0.9,"clip":true},
   "encoding":{"x":{"field":"x","type":"quantitative","scale":{"domain":[25,45],"nice":false,"zero":false},"axis":null},"y":{"field":"y","type":"quantitative","scale":{"domain":[0.15,0.35],"nice":false,"zero":false},"axis":null},
    "fill":{"field":"f","type":"quantitative","title":"Percent of Maximum Amplitude","scale":{"domain":[60,100],"range":["#ffffff","#474747"]}},"detail":{"field":"i"},"order":{"field":"o","type":"quantitative"}}},
  {"data":{"name":"c"},"transform":[{"filter":"datum.s==='PUNE'&&datum.l===90"}],
   "mark":{"type":"line","interpolate":"cardinal-closed","stroke":"black","strokeWidth":0.9,"clip":true},
   "encoding":{"x":{"field":"x","type":"quantitative","scale":{"domain":[25,45],"nice":false,"zero":false},"axis":null},"y":{"field":"y","type":"quantitative","scale":{"domain":[0.15,0.35],"nice":false,"zero":false},"axis":null},
    "fill":{"field":"f","type":"quantitative","title":"Percent of Maximum Amplitude","scale":{"domain":[60,100],"range":["#ffffff","#474747"]}},"detail":{"field":"i"},"order":{"field":"o","type":"quantitative"}}},
  {"data":{"name":"gx"},"mark":{"type":"rule","stroke":"black","strokeWidth":1},"encoding":{"x":{"field":"v","type":"quantitative","scale":{"domain":[25,45],"nice":false,"zero":false},"axis":null}}},
  {"data":{"name":"gy"},"mark":{"type":"rule","stroke":"black","strokeWidth":1},"encoding":{"y":{"field":"v","type":"quantitative","scale":{"domain":[0.15,0.35],"nice":false,"zero":false},"axis":null}}},
  {"data":{"name":"info"},"transform":[{"filter":"datum.s==='PUNE'"}],
   "mark":{"type":"point","shape":"M0,-1L0.22,-0.22L1,0L0.22,0.22L0,1L-0.22,0.22L-1,0L-0.22,-0.22Z","size":100,"filled":true,"fill":"white","opacity":1,"strokeWidth":0},
   "encoding":{"x":{"field":"zm","type":"quantitative","scale":{"domain":[25,45],"nice":false,"zero":false},"axis":{"orient":"top","values":[25,26,27,28,29,30,31,32,33,34,35,36,37,38,39,40,41,42,43,44,45],"labels":false,"tickSize":-5,"title":null}},
    "y":{"field":"sg","type":"quantitative","scale":{"domain":[0.15,0.35],"nice":false,"zero":false},"axis":{"orient":"right","values":[0.15,0.16,0.17,0.18,0.19,0.2,0.21,0.22,0.23,0.24,0.25,0.26,0.27,0.28,0.29,0.3,0.31,0.32,0.33,0.34,0.35],"labels":false,"tickSize":-5,"title":null}}}},
  {"data":{"name":"info"},"transform":[{"filter":"datum.s==='PUNE'"}],"mark":{"type":"text","align":"right","baseline":"alphabetic","fontSize":27,"color":"black"},
   "encoding":{"x":{"datum":43.4,"type":"quantitative","scale":{"domain":[25,45],"nice":false,"zero":false},"axis":null},"y":{"datum":0.3195,"type":"quantitative","scale":{"domain":[0.15,0.35],"nice":false,"zero":false},"axis":null},"text":{"field":"s"}}},
  {"data":{"name":"info"},"transform":[{"filter":"datum.s==='PUNE'"}],"mark":{"type":"text","align":"left","baseline":"alphabetic","fontSize":18,"color":"black","text":"z"},
   "encoding":{"x":{"datum":26.35,"type":"quantitative","scale":{"domain":[25,45],"nice":false,"zero":false},"axis":null},"y":{"datum":0.1658,"type":"quantitative","scale":{"domain":[0.15,0.35],"nice":false,"zero":false},"axis":null}}},
  {"data":{"name":"info"},"transform":[{"filter":"datum.s==='PUNE'"}],"mark":{"type":"text","align":"left","baseline":"alphabetic","fontSize":13,"color":"black","text":"M","dx":8.5,"dy":4.5},
   "encoding":{"x":{"datum":26.35,"type":"quantitative","scale":{"domain":[25,45],"nice":false,"zero":false},"axis":null},"y":{"datum":0.1658,"type":"quantitative","scale":{"domain":[0.15,0.35],"nice":false,"zero":false},"axis":null}}},
  {"data":{"name":"info"},"transform":[{"filter":"datum.s==='PUNE'"}],"mark":{"type":"text","align":"left","baseline":"alphabetic","fontSize":18,"color":"black","dx":25},
   "encoding":{"x":{"datum":26.35,"type":"quantitative","scale":{"domain":[25,45],"nice":false,"zero":false},"axis":null},"y":{"datum":0.1658,"type":"quantitative","scale":{"domain":[0.15,0.35],"nice":false,"zero":false},"axis":null},"text":{"field":"zt"}}},
  {"data":{"name":"info"},"transform":[{"filter":"datum.s==='PUNE'"}],"mark":{"type":"text","align":"right","baseline":"alphabetic","fontSize":18,"color":"black"},
   "encoding":{"x":{"datum":43.75,"type":"quantitative","scale":{"domain":[25,45],"nice":false,"zero":false},"axis":null},"y":{"datum":0.1658,"type":"quantitative","scale":{"domain":[0.15,0.35],"nice":false,"zero":false},"axis":null},"text":{"field":"st"}}}
 ]},
{"width":246,"height":246,"resolve":{"axis":{"x":"independent","y":"independent"}},
 "layer":[
  {"data":{"name":"c"},"transform":[{"filter":"datum.s==='TRVM'&&datum.l===60"}],
   "mark":{"type":"line","interpolate":"cardinal-closed","stroke":"black","strokeWidth":0.9,"clip":true},
   "encoding":{
    "x":{"field":"x","type":"quantitative","scale":{"domain":[25,45],"nice":false,"zero":false},
     "axis":{"orient":"bottom","values":[25,26,27,28,29,30,31,32,33,34,35,36,37,38,39,40,41,42,43,44,45],"labelExpr":"datum.value % 5 === 0 ? datum.label : ''","labelFlush":true,"labelOverlap":false,"labelPadding":12,"tickSize":-5,"title":null}},
    "y":{"field":"y","type":"quantitative","scale":{"domain":[0.15,0.35],"nice":false,"zero":false},
     "axis":{"orient":"left","values":[0.15,0.16,0.17,0.18,0.19,0.2,0.21,0.22,0.23,0.24,0.25,0.26,0.27,0.28,0.29,0.3,0.31,0.32,0.33,0.34,0.35],"labels":false,"tickSize":-5,"title":null}},
    "fill":{"field":"f","type":"quantitative","title":"Percent of Maximum Amplitude","scale":{"domain":[60,100],"range":["#ffffff","#474747"]}},
    "detail":{"field":"i"},
    "order":{"field":"o","type":"quantitative"}}},
  {"data":{"name":"c"},"transform":[{"filter":"datum.s==='TRVM'&&datum.l===70"}],
   "mark":{"type":"line","interpolate":"cardinal-closed","stroke":"black","strokeWidth":0.9,"clip":true},
   "encoding":{"x":{"field":"x","type":"quantitative","scale":{"domain":[25,45],"nice":false,"zero":false},"axis":null},"y":{"field":"y","type":"quantitative","scale":{"domain":[0.15,0.35],"nice":false,"zero":false},"axis":null},
    "fill":{"field":"f","type":"quantitative","title":"Percent of Maximum Amplitude","scale":{"domain":[60,100],"range":["#ffffff","#474747"]}},"detail":{"field":"i"},"order":{"field":"o","type":"quantitative"}}},
  {"data":{"name":"c"},"transform":[{"filter":"datum.s==='TRVM'&&datum.l===80"}],
   "mark":{"type":"line","interpolate":"cardinal-closed","stroke":"black","strokeWidth":0.9,"clip":true},
   "encoding":{"x":{"field":"x","type":"quantitative","scale":{"domain":[25,45],"nice":false,"zero":false},"axis":null},"y":{"field":"y","type":"quantitative","scale":{"domain":[0.15,0.35],"nice":false,"zero":false},"axis":null},
    "fill":{"field":"f","type":"quantitative","title":"Percent of Maximum Amplitude","scale":{"domain":[60,100],"range":["#ffffff","#474747"]}},"detail":{"field":"i"},"order":{"field":"o","type":"quantitative"}}},
  {"data":{"name":"c"},"transform":[{"filter":"datum.s==='TRVM'&&datum.l===90"}],
   "mark":{"type":"line","interpolate":"cardinal-closed","stroke":"black","strokeWidth":0.9,"clip":true},
   "encoding":{"x":{"field":"x","type":"quantitative","scale":{"domain":[25,45],"nice":false,"zero":false},"axis":null},"y":{"field":"y","type":"quantitative","scale":{"domain":[0.15,0.35],"nice":false,"zero":false},"axis":null},
    "fill":{"field":"f","type":"quantitative","title":"Percent of Maximum Amplitude","scale":{"domain":[60,100],"range":["#ffffff","#474747"]}},"detail":{"field":"i"},"order":{"field":"o","type":"quantitative"}}},
  {"data":{"name":"gx"},"mark":{"type":"rule","stroke":"black","strokeWidth":1},"encoding":{"x":{"field":"v","type":"quantitative","scale":{"domain":[25,45],"nice":false,"zero":false},"axis":null}}},
  {"data":{"name":"gy"},"mark":{"type":"rule","stroke":"black","strokeWidth":1},"encoding":{"y":{"field":"v","type":"quantitative","scale":{"domain":[0.15,0.35],"nice":false,"zero":false},"axis":null}}},
  {"data":{"name":"info"},"transform":[{"filter":"datum.s==='TRVM'"}],
   "mark":{"type":"point","shape":"M0,-1L0.22,-0.22L1,0L0.22,0.22L0,1L-0.22,0.22L-1,0L-0.22,-0.22Z","size":100,"filled":true,"fill":"white","opacity":1,"strokeWidth":0},
   "encoding":{"x":{"field":"zm","type":"quantitative","scale":{"domain":[25,45],"nice":false,"zero":false},"axis":{"orient":"top","values":[25,26,27,28,29,30,31,32,33,34,35,36,37,38,39,40,41,42,43,44,45],"labels":false,"tickSize":-5,"title":null}},
    "y":{"field":"sg","type":"quantitative","scale":{"domain":[0.15,0.35],"nice":false,"zero":false},"axis":{"orient":"right","values":[0.15,0.16,0.17,0.18,0.19,0.2,0.21,0.22,0.23,0.24,0.25,0.26,0.27,0.28,0.29,0.3,0.31,0.32,0.33,0.34,0.35],"labels":false,"tickSize":-5,"title":null}}}},
  {"data":{"name":"info"},"transform":[{"filter":"datum.s==='TRVM'"}],"mark":{"type":"text","align":"right","baseline":"alphabetic","fontSize":27,"color":"black"},
   "encoding":{"x":{"datum":43.4,"type":"quantitative","scale":{"domain":[25,45],"nice":false,"zero":false},"axis":null},"y":{"datum":0.3195,"type":"quantitative","scale":{"domain":[0.15,0.35],"nice":false,"zero":false},"axis":null},"text":{"field":"s"}}},
  {"data":{"name":"info"},"transform":[{"filter":"datum.s==='TRVM'"}],"mark":{"type":"text","align":"left","baseline":"alphabetic","fontSize":18,"color":"black","text":"z"},
   "encoding":{"x":{"datum":25.9,"type":"quantitative","scale":{"domain":[25,45],"nice":false,"zero":false},"axis":null},"y":{"datum":0.1658,"type":"quantitative","scale":{"domain":[0.15,0.35],"nice":false,"zero":false},"axis":null}}},
  {"data":{"name":"info"},"transform":[{"filter":"datum.s==='TRVM'"}],"mark":{"type":"text","align":"left","baseline":"alphabetic","fontSize":13,"color":"black","text":"M","dx":8.5,"dy":4.5},
   "encoding":{"x":{"datum":25.9,"type":"quantitative","scale":{"domain":[25,45],"nice":false,"zero":false},"axis":null},"y":{"datum":0.1658,"type":"quantitative","scale":{"domain":[0.15,0.35],"nice":false,"zero":false},"axis":null}}},
  {"data":{"name":"info"},"transform":[{"filter":"datum.s==='TRVM'"}],"mark":{"type":"text","align":"left","baseline":"alphabetic","fontSize":18,"color":"black","dx":25},
   "encoding":{"x":{"datum":25.9,"type":"quantitative","scale":{"domain":[25,45],"nice":false,"zero":false},"axis":null},"y":{"datum":0.1658,"type":"quantitative","scale":{"domain":[0.15,0.35],"nice":false,"zero":false},"axis":null},"text":{"field":"zt"}}},
  {"data":{"name":"info"},"transform":[{"filter":"datum.s==='TRVM'"}],"mark":{"type":"text","align":"right","baseline":"alphabetic","fontSize":18,"color":"black"},
   "encoding":{"x":{"datum":43.78,"type":"quantitative","scale":{"domain":[25,45],"nice":false,"zero":false},"axis":null},"y":{"datum":0.1658,"type":"quantitative","scale":{"domain":[0.15,0.35],"nice":false,"zero":false},"axis":null},"text":{"field":"st"}}}
 ]}
]
}
